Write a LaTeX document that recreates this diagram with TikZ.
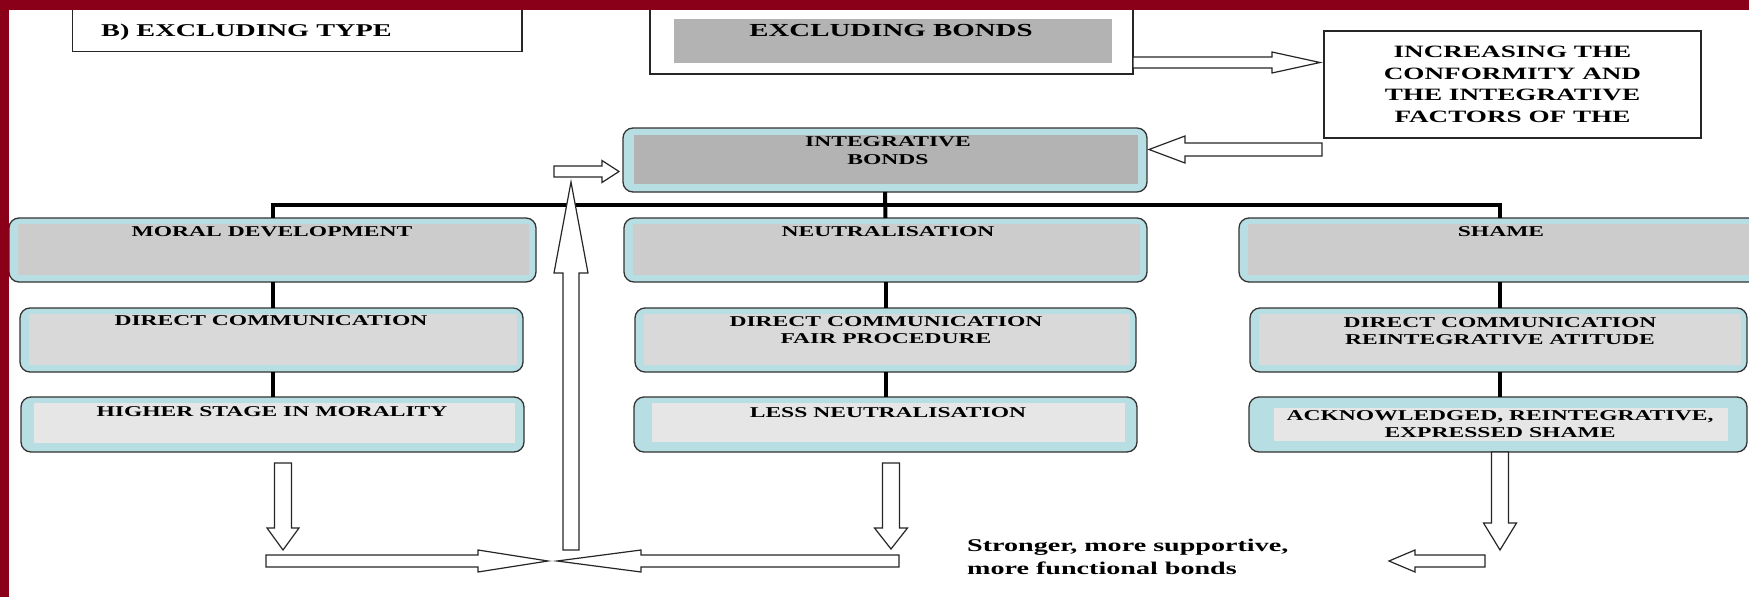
\documentclass[tikz,border=0pt]{standalone}
\usepackage{fontspec}
\setmainfont{Liberation Serif}[FakeStretch=1.57]
\usetikzlibrary{calc}
\definecolor{maroon}{RGB}{137,0,24}
\definecolor{band}{RGB}{183,222,226}
\definecolor{gA}{RGB}{179,179,179}
\definecolor{gB}{RGB}{204,204,204}
\definecolor{gC}{RGB}{217,217,217}
\definecolor{gD}{RGB}{230,230,230}
% #1 name, #2 start coord, #3 tip coord, #4 shaft half width, #5 head half width, #6 head length
\newcommand{\blockarr}[6]{%
  \coordinate (#1h) at ($(#3)!#6pt!(#2)$);
  \draw[blk] ($(#2)!#4pt!90:(#3)$) -- ($(#1h)!#4pt!90:(#3)$) -- ($(#1h)!#5pt!90:(#3)$) -- (#3)
    -- ($(#1h)!#5pt!-90:(#3)$) -- ($(#1h)!#4pt!-90:(#3)$) -- ($(#2)!#4pt!-90:(#3)$) -- cycle;
}
\begin{document}
\begin{tikzpicture}[x=1pt,y=-1pt,
  sqbox/.style={draw=black!85, line width=1.3, fill=white, inner sep=0, outer sep=0},
  rbox/.style={draw=black!80, line width=1.3, fill=band, rounded corners=10, inner sep=0, outer sep=0},
  tree/.style={line width=4, black},
  blk/.style={draw=black!85, fill=white, line width=1.2, line join=miter},
  txt/.style={font=\bfseries\fontsize{15}{17}\selectfont, inner sep=0, align=center},
]
\useasboundingbox (0,0) rectangle (1749,597);
\fill[white] (0,0) rectangle (1749,597);

% top boxes
\node[sqbox, minimum width=449.3, minimum height=60, anchor=south west] (btype) at (72.7,51.7) {};
\node[txt, font=\bfseries\fontsize{18}{20}\selectfont, anchor=base west] (btypeT) at (101,36) {B) EXCLUDING TYPE};

\node[sqbox, minimum width=483, minimum height=82, anchor=south west] (eb) at (650,74) {};
\fill[gA] (674,19) rectangle (1112,63.3);
\node[txt, font=\bfseries\fontsize{18.4}{20}\selectfont] (ebT) at (891,30) {EXCLUDING BONDS};

\node[sqbox, minimum width=377, minimum height=107, font=\bfseries\fontsize{17.3}{21.7}\selectfont, align=center] (inc) at (1512.5,84.5) {INCREASING THE\\CONFORMITY AND\\THE INTEGRATIVE\\FACTORS OF THE};

% integrative box
\node[rbox, minimum width=524, minimum height=64] (integ) at (885,160) {};
\fill[gA] ([shift={(11,7)}]integ.north west) rectangle ([shift={(-9,-8)}]integ.south east);

% level 1
\node[rbox, minimum width=527, minimum height=64] (moral) at (272.5,250) {};
\node[rbox, minimum width=523, minimum height=64] (neut) at (885.5,250) {};
\node[rbox, minimum width=522, minimum height=64] (shame) at (1500,250) {};
\foreach \n in {moral,neut,shame}
  \fill[gB] ([shift={(9,6)}]\n.north west) rectangle ([shift={(-7,-7)}]\n.south east);

% level 2
\node[rbox, minimum width=503, minimum height=64] (dcA) at (271.5,340) {};
\node[rbox, minimum width=501, minimum height=64] (dcB) at (885.5,340) {};
\node[rbox, minimum width=497, minimum height=64] (dcC) at (1498.5,340) {};
\foreach \n in {dcA,dcB,dcC}
  \fill[gC] ([shift={(9,6)}]\n.north west) rectangle ([shift={(-6,-7)}]\n.south east);

% level 3
\node[rbox, minimum width=503, minimum height=55] (hsA) at (272.5,424.5) {};
\node[rbox, minimum width=503, minimum height=55] (hsB) at (885.5,424.5) {};
\node[rbox, minimum width=498, minimum height=55] (hsC) at (1498,424.5) {};
\fill[gD] ([shift={(13,6)}]hsA.north west) rectangle ([shift={(-9,-9)}]hsA.south east);
\fill[gD] ([shift={(18,6)}]hsB.north west) rectangle ([shift={(-12,-10)}]hsB.south east);
\fill[gD] ([shift={(25,11)}]hsC.north west) rectangle ([shift={(-19,-11)}]hsC.south east);

% texts
\node[txt, font=\bfseries\fontsize{15}{18}\selectfont] (integT) at (888,151) {INTEGRATIVE\\BONDS};
\node[txt] (moralT) at (272,232) {MORAL DEVELOPMENT};
\node[txt] (neutT) at (888,232) {NEUTRALISATION};
\node[txt] (shameT) at (1501,232) {SHAME};
\node[txt] (dcAT) at (271,321) {DIRECT COMMUNICATION};
\node[txt] (dcBT) at (886,330.5) {DIRECT COMMUNICATION\\FAIR PROCEDURE};
\node[txt] (dcCT) at (1500,331) {DIRECT COMMUNICATION\\REINTEGRATIVE ATITUDE};
\node[txt] (hsAT) at (272,412) {HIGHER STAGE IN MORALITY};
\node[txt] (hsBT) at (888,413) {LESS NEUTRALISATION};
\node[txt, font=\bfseries\fontsize{15}{16.5}\selectfont] (hsCT) at (1500,424) {ACKNOWLEDGED, REINTEGRATIVE,\\EXPRESSED SHAME};
\node[txt, font=\bfseries\fontsize{17.9}{23}\selectfont, align=left, anchor=west] (strT) at (967,556.5) {Stronger, more supportive,\\more functional bonds};

% tree connectors
\draw[tree] (integ.south) -- (neut.north);
\draw[tree] (moral.north) -- ++(0,-13) -| (shame.north);
\draw[tree] (moral.south) -- (moral.south |- dcA.north);
\draw[tree] (moral.south |- dcA.south) -- (moral.south |- hsA.north);
\draw[tree] (neut.south) -- (neut.south |- dcB.north);
\draw[tree] (neut.south |- dcB.south) -- (neut.south |- hsB.north);
\draw[tree] (shame.south) -- (shame.south |- dcC.north);
\draw[tree] (shame.south |- dcC.south) -- (shame.south |- hsC.north);

% block arrows
\coordinate (a1s) at (1133,62.5);  \coordinate (a1t) at (1320,62.5);
\blockarr{a1}{a1s}{a1t}{5.5}{10.5}{48}
\coordinate (a2s) at (1322,149.5); \coordinate (a2t) at (1149,149.5);
\blockarr{a2}{a2s}{a2t}{6.5}{13.5}{36}
\coordinate (a3s) at (554,171.5);  \coordinate (a3t) at (619,171.5);
\blockarr{a3}{a3s}{a3t}{5.5}{11}{17}
\coordinate (a4s) at (571,550);    \coordinate (a4t) at (571,182);
\blockarr{a4}{a4s}{a4t}{8}{17}{91}
\coordinate (a5s) at (283,463);    \coordinate (a5t) at (283,550);
\blockarr{a5}{a5s}{a5t}{8.5}{16}{22}
\coordinate (a6s) at (266,561);    \coordinate (a6t) at (548,561);
\blockarr{a6}{a6s}{a6t}{6}{11}{70}
\coordinate (a7s) at (899,561);    \coordinate (a7t) at (557,561);
\blockarr{a7}{a7s}{a7t}{6}{11}{84}
\coordinate (a8s) at (891,463);    \coordinate (a8t) at (891,549);
\blockarr{a8}{a8s}{a8t}{8.5}{16.5}{21}
\coordinate (a9s) at (hsC.south -| 1500,0);  \coordinate (a9t) at (1500,550);
\blockarr{a9}{a9s}{a9t}{8.5}{16.5}{27}
\coordinate (a10s) at (1485,561);  \coordinate (a10t) at (1389,561);
\blockarr{a10}{a10s}{a10t}{6}{11}{26}

% maroon frame
\fill[maroon] (0,0) rectangle (1749,10);
\fill[maroon] (0,0) rectangle (8.5,597);
\end{tikzpicture}
\end{document}
